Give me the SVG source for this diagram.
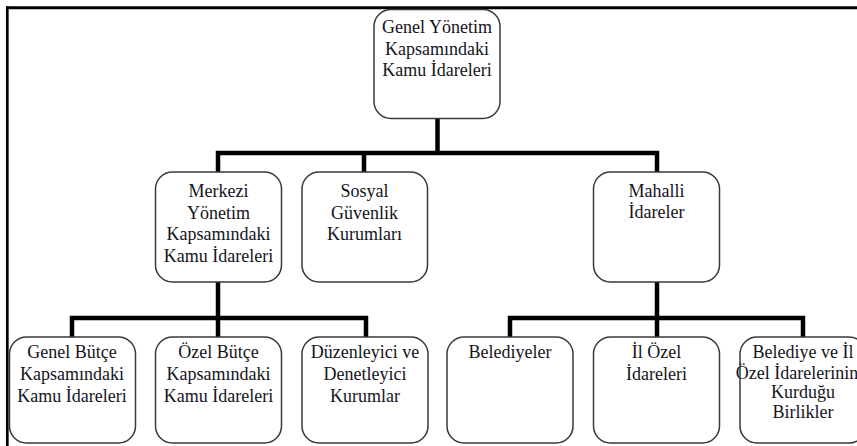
<svg xmlns="http://www.w3.org/2000/svg" width="857" height="446" viewBox="0 0 857 446">
<style>
.box{fill:#fff;stroke:#3a3a3a;stroke-width:1.5}
.t{font-family:'Liberation Serif','Times New Roman',serif;font-size:18px;fill:#141420;text-anchor:middle}
.c{fill:none;stroke:#000;stroke-width:4.5;stroke-linejoin:miter}
.f{fill:none;stroke:#000}
</style>
<rect width="857" height="446" fill="#fff"/>
<g id="frame">
<line class="f" x1="6" y1="7.8" x2="857" y2="7.8" stroke-width="3"/>
<line class="f" x1="7.3" y1="6.5" x2="7.3" y2="446" stroke-width="2.7"/>
</g>
<g id="connectors">
<path class="c" d="M437.5,118 V153"/>
<path class="c" d="M218,172 V153 H657 V172"/>
<path class="c" d="M364,153 V172"/>
<path class="c" d="M218,282 V337"/>
<path class="c" d="M72,337 V318 H366 V337"/>
<path class="c" d="M657,282 V337"/>
<path class="c" d="M510,337 V318 H803 V337"/>
</g>
<g id="genel-yonetim">
<rect class="box" x="374" y="9.5" width="126" height="109" rx="17"/>
<text class="t" x="437" y="33">Genel Yönetim</text>
<text class="t" x="437" y="55">Kapsamındaki</text>
<text class="t" x="437" y="76">Kamu İdareleri</text>
</g>
<g id="merkezi">
<rect class="box" x="155.5" y="172" width="126" height="110" rx="17"/>
<text class="t" x="218.5" y="197">Merkezi</text>
<text class="t" x="218.5" y="218.5">Yönetim</text>
<text class="t" x="218.5" y="240">Kapsamındaki</text>
<text class="t" x="218.5" y="262">Kamu İdareleri</text>
</g>
<g id="sosyal">
<rect class="box" x="302" y="172" width="125.5" height="110" rx="17"/>
<text class="t" x="364.5" y="197">Sosyal</text>
<text class="t" x="364.5" y="218.5">Güvenlik</text>
<text class="t" x="364.5" y="240">Kurumları</text>
</g>
<g id="mahalli">
<rect class="box" x="593.5" y="172" width="126" height="110" rx="17"/>
<text class="t" x="656.5" y="196.5">Mahalli</text>
<text class="t" x="656.5" y="218">İdareler</text>
</g>
<g id="genel-butce">
<rect class="box" x="9.5" y="337" width="126" height="106" rx="17"/>
<text class="t" x="72" y="358">Genel Bütçe</text>
<text class="t" x="72" y="380">Kapsamındaki</text>
<text class="t" x="72" y="402">Kamu İdareleri</text>
</g>
<g id="ozel-butce">
<rect class="box" x="155.5" y="337" width="126" height="106" rx="17"/>
<text class="t" x="218.5" y="358">Özel Bütçe</text>
<text class="t" x="218.5" y="380">Kapsamındaki</text>
<text class="t" x="218.5" y="402">Kamu İdareleri</text>
</g>
<g id="duzenleyici">
<rect class="box" x="302" y="337" width="126" height="106" rx="17"/>
<text class="t" x="365" y="358">Düzenleyici ve</text>
<text class="t" x="365" y="380">Denetleyici</text>
<text class="t" x="365" y="402">Kurumlar</text>
</g>
<g id="belediyeler">
<rect class="box" x="447" y="337" width="126" height="106" rx="17"/>
<text class="t" x="510" y="358">Belediyeler</text>
</g>
<g id="il-ozel">
<rect class="box" x="593.5" y="337" width="126" height="106" rx="17"/>
<text class="t" x="656.5" y="358">İl Özel</text>
<text class="t" x="656.5" y="380">İdareleri</text>
</g>
<g id="birlikler">
<rect class="box" x="740" y="337" width="126" height="106" rx="17"/>
<text class="t" x="803" y="358">Belediye ve İl</text>
<text class="t" x="797" y="379" font-size="16">Özel İdarelerinin</text>
<text class="t" x="803" y="398">Kurduğu</text>
<text class="t" x="803" y="418">Birlikler</text>
</g>
</svg>
